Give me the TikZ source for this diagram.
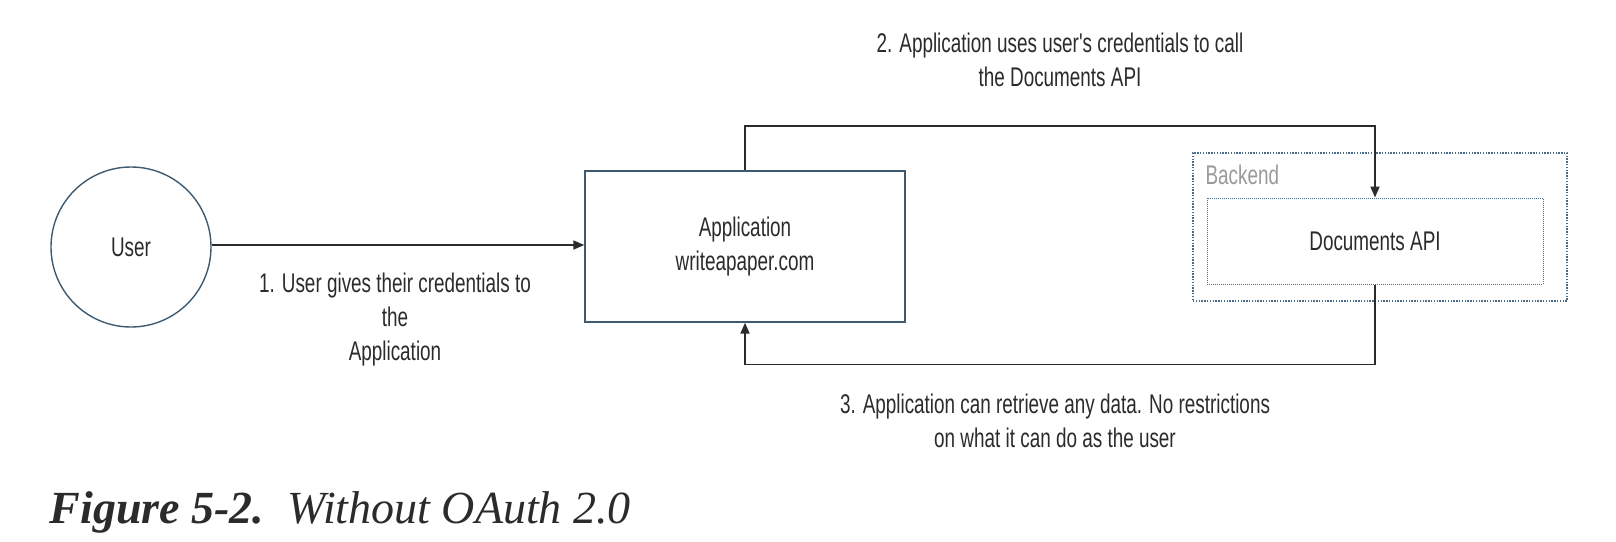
\documentclass[tikz,border=0pt]{standalone}
\usepackage{fontspec}
\newfontfamily\agency[FakeStretch=0.7]{Liberation Sans}
\newfontfamily\captionserif{Liberation Serif}
\usetikzlibrary{arrows.meta, positioning, calc}
\usepackage{xcolor}
\definecolor{ink}{HTML}{2B2B2B}
\definecolor{boxedge}{HTML}{3E5A70}
\definecolor{dotedge}{HTML}{4A6A85}
\definecolor{muted}{HTML}{9A9A9A}

\begin{document}
\begin{tikzpicture}[
  x=1pt, y=-1pt,
  every node/.style={text=ink, align=center,
    font=\agency\fontsize{27}{34}\selectfont},
  actor/.style={circle, draw=boxedge, line width=1.4pt,
    minimum size=160pt, inner sep=0pt},
  service/.style={rectangle, draw=boxedge, line width=1.4pt,
    minimum width=320pt, minimum height=151pt},
  backend/.style={rectangle, draw=dotedge, line width=1.4pt,
    dash pattern=on 1.4pt off 1.4pt, minimum width=374pt, minimum height=148pt},
  api/.style={rectangle, draw=dotedge, line width=1pt,
    dash pattern=on 1pt off 1pt, minimum width=336pt, minimum height=86pt},
  flow/.style={draw=ink, line width=1.8pt, -{Triangle[length=11pt, width=9pt]}}
]
\useasboundingbox (0,0) rectangle (1616,541);

% parties
\node[actor] (user) at (131,247) {User};
\node[service] (app) at (745,246.5) {Application\\writeapaper.com};
\node[backend] (backend) at (1380,227) {};
\node[api] (docs) at (1375,241) {Documents API};
\node[anchor=west, text=muted] (backendtag) at (1202,175) {Backend};

% steps
\draw[flow] (user.east |- 0,245) -- (app.west |- 0,245);
\draw[flow] (app.north) -- ++(0,-44) -| (docs.north);
\draw[flow] (docs.south) -- ++(0,80) -| (app.south);

\node (step1) at (395,320) {1. User gives their credentials to\\the\\Application};
\node (step2) at (1060,60) {2. Application uses user's credentials to call\\the Documents API};
\node (step3) at (1055,421) {3. Application can retrieve any data. No restrictions\\on what it can do as the user};

% caption
\node[anchor=west, font=\captionserif\fontsize{46}{50}\selectfont] (caption) at (46,512)
  {\textbf{\textit{Figure 5-2.}}\enspace\textit{Without OAuth 2.0}};
\end{tikzpicture}
\end{document}
